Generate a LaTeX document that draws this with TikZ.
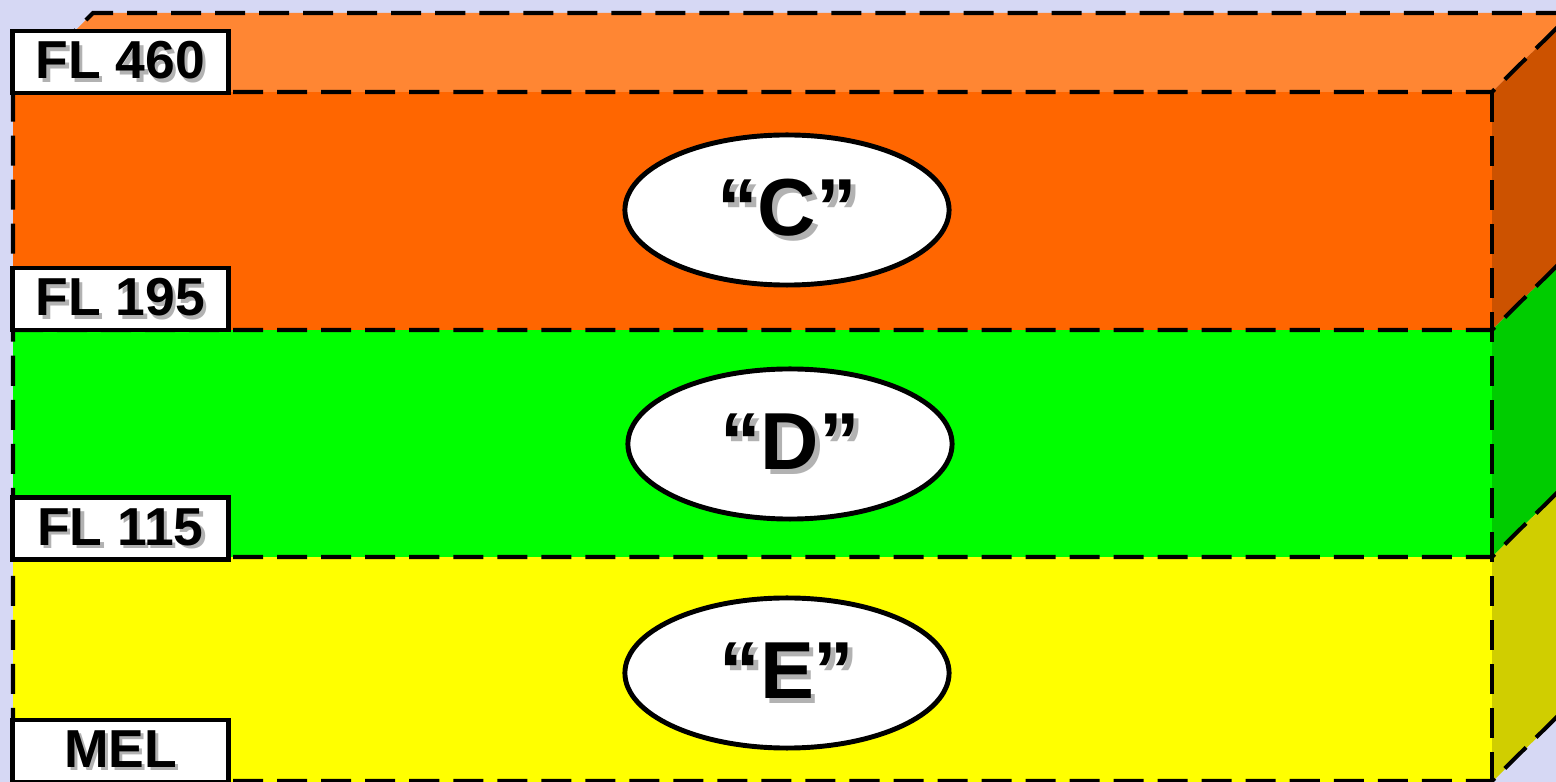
\documentclass[tikz,border=0pt]{standalone}
\usepackage{fontspec}
\setmainfont{Liberation Sans}
\usetikzlibrary{shapes.geometric}

\definecolor{bglav}{RGB}{214,216,244}
\definecolor{topC}{RGB}{255,134,51}
\definecolor{frontC}{RGB}{255,102,0}
\definecolor{sideC}{RGB}{204,82,0}
\definecolor{frontD}{RGB}{0,255,0}
\definecolor{sideD}{RGB}{0,204,0}
\definecolor{frontE}{RGB}{255,255,0}
\definecolor{sideE}{RGB}{208,206,0}
\definecolor{shadowgray}{RGB}{178,178,178}

% text with a grey drop shadow
\newcommand{\shadowed}[1]{\makebox[0pt][l]{\kern0.06em\raisebox{-0.06em}{\color{shadowgray}#1}}#1}

\begin{document}
\begin{tikzpicture}[
  x=0.01cm, y=-0.01cm,
  edge/.style={line width=1.15pt, dash pattern=on 0.3cm off 0.14cm},
  flbox/.style={rectangle, draw, fill=white, line width=1.4pt, minimum width=2.16cm, minimum height=0.62cm, inner sep=0pt, font=\bfseries\fontsize{15.2}{16}\selectfont},
  zone/.style={ellipse, draw, fill=white, line width=1.4pt, minimum width=3.24cm, minimum height=1.5cm, inner sep=0pt, font=\bfseries\fontsize{23}{24}\selectfont}
]
\fill[bglav] (0,0) rectangle (1556,782);
\clip (0,0) rectangle (1556,782);

% faces of the block
\fill[topC] (13,92) -- (93,13) -- (1572,13) -- (1492,92) -- cycle;
\fill[frontC] (13,92) rectangle (1492,330);
\fill[frontD] (13,330) rectangle (1492,557);
\fill[frontE] (13,557) rectangle (1492,782);
\fill[sideC] (1492,92) -- (1572,13) -- (1572,251) -- (1492,330) -- cycle;
\fill[sideD] (1492,330) -- (1572,251) -- (1572,478) -- (1492,557) -- cycle;
\fill[sideE] (1492,557) -- (1572,478) -- (1572,703) -- (1492,782) -- cycle;

% dashed edges
\draw[edge] (13,782) -- (13,92) -- (93,13) -- (1572,13);
\draw[edge] (13,92) -- (1492,92) -- (1572,13);
\draw[edge] (1492,92) -- (1492,782);
\draw[edge] (13,330) -- (1492,330) -- (1572,251);
\draw[edge] (13,557) -- (1492,557) -- (1572,478);
\draw[edge] (13,781) -- (1492,781) -- (1572,702);

% levels
\node[flbox] (fl460) at (120.5,62) {\shadowed{FL 460}};
\node[flbox] (fl195) at (120.5,299) {\shadowed{FL 195}};
\node[flbox] (fl115) at (120.5,528.5) {\shadowed{FL 115}};
\node[flbox] (mel) at (120.5,751) {\shadowed{MEL}};

% airspace classes
\node[zone] (zoneC) at (787,210) {\raisebox{-0.1em}{\shadowed{“C”}}};
\node[zone] (zoneD) at (790,444) {\raisebox{-0.1em}{\shadowed{“D”}}};
\node[zone] (zoneE) at (787,673) {\raisebox{-0.1em}{\shadowed{“E”}}};
\end{tikzpicture}
\end{document}
